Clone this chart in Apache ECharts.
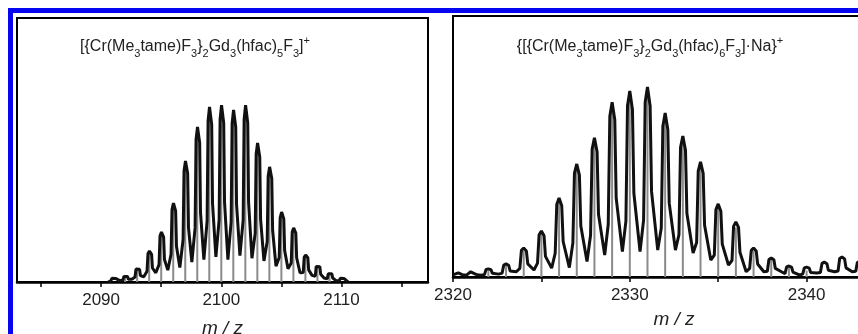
<!DOCTYPE html>
<html>
<head>
<meta charset="utf-8">
<script src="https://cdn.jsdelivr.net/npm/echarts@6/dist/echarts.min.js"></script>
<style>
  html, body { margin: 0; padding: 0; background: #fff; }
  #chart { width: 858px; height: 334px; }
</style>
</head>
<body>
<div id="chart"></div>
<script>
// 左图：实测谱线 [m/z, 强度]
var leftTrace = [
  [2090.6, 0],
  [2090.82, 0.5], [2090.9, 1.4], [2091.02, 1.5], [2091.2, 1.35], [2091.27, 0.7], [2091.55, 0.5],
  [2091.82, 0.8], [2091.9, 2.1], [2092.02, 2.3], [2092.2, 2.1], [2092.27, 1.0], [2092.55, 1.0],
  [2092.82, 1.9], [2092.9, 4.9], [2093.02, 5.3], [2093.2, 4.8], [2093.27, 2.4], [2093.55, 2.0],
  [2093.82, 4.1], [2093.9, 10.8], [2094.02, 11.7], [2094.2, 10.5], [2094.27, 5.3], [2094.55, 3.5],
  [2094.82, 6.6], [2094.9, 17.4], [2095.02, 18.9], [2095.2, 17], [2095.27, 8.5], [2095.55, 4.5],
  [2095.82, 10.5], [2095.9, 27.5], [2096.02, 29.9], [2096.2, 26.9], [2096.27, 13.5], [2096.55, 5.5],
  [2096.82, 16], [2096.9, 42.1], [2097.02, 45.8], [2097.2, 41.2], [2097.27, 20.6], [2097.55, 7.5],
  [2097.82, 20.5], [2097.9, 54], [2098.02, 58.7], [2098.2, 52.8], [2098.27, 26.4], [2098.55, 8.5],
  [2098.82, 23.2], [2098.9, 61], [2099.02, 66.3], [2099.2, 59.7], [2099.27, 29.8], [2099.55, 9.5],
  [2099.82, 23.5], [2099.9, 61.6], [2100.02, 67], [2100.2, 60.3], [2100.27, 30.2], [2100.55, 8.5],
  [2100.82, 22.8], [2100.9, 60], [2101.02, 65.2], [2101.2, 58.7], [2101.27, 29.3], [2101.55, 10],
  [2101.82, 23.5], [2101.9, 61.6], [2102.02, 67], [2102.2, 60.3], [2102.27, 30.2], [2102.55, 9],
  [2102.82, 18.4], [2102.9, 48.5], [2103.02, 52.7], [2103.2, 47.4], [2103.27, 23.7], [2103.55, 8],
  [2103.82, 15.3], [2103.9, 40.1], [2104.02, 43.6], [2104.2, 39.2], [2104.27, 19.6], [2104.55, 6],
  [2104.82, 9.3], [2104.9, 24.4], [2105.02, 26.5], [2105.2, 23.9], [2105.27, 11.9], [2105.55, 5],
  [2105.82, 7.2], [2105.9, 18.9], [2106.02, 20.5], [2106.2, 18.5], [2106.27, 9.2], [2106.55, 3.5],
  [2106.82, 3.6], [2106.9, 9.4], [2107.02, 10.2], [2107.2, 9.2], [2107.27, 4.6], [2107.55, 2.5],
  [2107.82, 2.2], [2107.9, 5.9], [2108.02, 6.4], [2108.2, 5.8], [2108.27, 2.9], [2108.55, 1.5],
  [2108.82, 1.2], [2108.9, 3.1], [2109.02, 3.4], [2109.2, 3.1], [2109.27, 1.5], [2109.55, 0.5],
  [2109.82, 0.5], [2109.9, 1.4], [2110.02, 1.5], [2110.2, 1.35], [2110.27, 0.7], [2110.55, 0]
];
// 左图：理论同位素峰
var leftStickMz = [2092, 2093, 2094, 2095, 2096, 2097, 2098, 2099, 2100, 2101, 2102, 2103, 2104, 2105, 2106, 2107, 2108, 2109];
var leftStickInt = [2, 5, 11, 18, 28, 44, 56, 63, 64, 62, 64, 50, 41, 25, 19, 9.5, 6, 3];

// 右图：实测谱线
var rightTrace = [
  [2320, 0.8], [2320.3, 1.6], [2320.55, 0.8], [2320.8, 0.9], [2321.0, 2.0], [2321.3, 1.0], [2321.55, 0.7],
  [2321.78, 0.9], [2321.87, 2.9], [2322.0, 3.1], [2322.15, 2.8], [2322.23, 1.4], [2322.58, 1.1],
  [2322.78, 1.5], [2322.87, 4.6], [2323.0, 5.0], [2323.15, 4.5], [2323.23, 2.3], [2323.58, 2.0],
  [2323.78, 3.3], [2323.87, 10.2], [2324.0, 11.1], [2324.15, 10], [2324.23, 5], [2324.58, 2.7],
  [2324.78, 5.3], [2324.87, 16.2], [2325.0, 17.6], [2325.15, 15.8], [2325.23, 7.9], [2325.58, 3.4],
  [2325.78, 9.1], [2325.87, 27.9], [2326.0, 30.3], [2326.15, 27.3], [2326.23, 13.6], [2326.58, 3.6],
  [2326.78, 13], [2326.87, 39.8], [2327.0, 43.3], [2327.15, 39], [2327.23, 19.5], [2327.58, 5.9],
  [2327.78, 16], [2327.87, 49], [2328.0, 53.3], [2328.15, 48], [2328.23, 24], [2328.58, 8.4],
  [2328.78, 20.1], [2328.87, 61.6], [2329.0, 67], [2329.15, 60.3], [2329.23, 30.2], [2329.58, 9.7],
  [2329.78, 21.4], [2329.87, 65.6], [2330.0, 71.3], [2330.15, 64.2], [2330.23, 32.1], [2330.58, 9.7],
  [2330.78, 21.8], [2330.87, 67], [2331.0, 72.8], [2331.15, 65.5], [2331.23, 32.8], [2331.58, 10.3],
  [2331.78, 18.8], [2331.87, 57.8], [2332.0, 62.8], [2332.15, 56.5], [2332.23, 28.3], [2332.58, 10.3],
  [2332.78, 16.2], [2332.87, 49.7], [2333.0, 54], [2333.15, 48.6], [2333.23, 24.3], [2333.58, 9.2],
  [2333.78, 13.2], [2333.87, 40.6], [2334.0, 44.1], [2334.15, 39.7], [2334.23, 19.8], [2334.58, 6.5],
  [2334.78, 8.4], [2334.87, 25.8], [2335.0, 28], [2335.15, 25.2], [2335.23, 12.6], [2335.58, 4.6],
  [2335.78, 6.3], [2335.87, 19.4], [2336.0, 21.1], [2336.15, 19], [2336.23, 9.5], [2336.58, 2.0],
  [2336.78, 3.3], [2336.87, 10.2], [2337.0, 11.1], [2337.15, 10], [2337.23, 5], [2337.58, 2.0],
  [2337.78, 2.2], [2337.87, 6.7], [2338.0, 7.3], [2338.15, 6.6], [2338.23, 3.3], [2338.58, 2.0],
  [2338.78, 1.3], [2338.87, 3.9], [2339.0, 4.2], [2339.15, 3.8], [2339.23, 1.9], [2339.58, 0.8],
  [2339.78, 1.1], [2339.87, 3.5], [2340.0, 3.8], [2340.15, 3.4], [2340.23, 1.7], [2340.58, 1.5],
  [2340.78, 1.7], [2340.87, 5.2], [2341.0, 5.7], [2341.15, 5.1], [2341.23, 2.6], [2341.58, 2.0],
  [2341.78, 2.3], [2341.87, 7.1], [2342.0, 7.7], [2342.15, 6.9], [2342.23, 3.5], [2342.58, 2.0],
  [2342.78, 2.2], [2342.87, 5.5], [2343.0, 6], [2343.15, 5.4]
];
var rightStickMz = [2322, 2323, 2324, 2325, 2326, 2327, 2328, 2329, 2330, 2331, 2332, 2333, 2334, 2335, 2336, 2337, 2338, 2339, 2340];
var rightStickInt = [2.5, 4.5, 10, 16.5, 29, 41, 51, 64, 67, 72, 60, 51, 42, 26, 19, 10, 6.5, 3.5, 2.5];

// 刻度
var leftTicks = [2085, 2090, 2095, 2100, 2105, 2110, 2115];
var leftLabels = [2090, 2100, 2110];
var rightTicks = [2320, 2325, 2330, 2335, 2340, 2345];
var rightLabels = [2320, 2330, 2340];

var leftTitle = '[{Cr(Me{s|3}tame)F{s|3}}{s|2}Gd{s|3}(hfac){s|5}F{s|3}]{p|+}';
var rightTitle = '{[{Cr(Me{s|3}tame)F{s|3}}{s|2}Gd{s|3}(hfac){s|6}F{s|3}]\u00b7Na}{p|+}';

var FONT = '"Liberation Sans", Arial, sans-serif';

function pairs(xs, ys) {
  var out = [];
  for (var i = 0; i < xs.length; i++) out.push([xs[i], ys[i]]);
  return out;
}

function makeXAxis(idx, min, max, ticks, labels, nameGap) {
  return {
    type: 'value',
    gridIndex: idx,
    min: min,
    max: max,
    name: 'm / z',
    nameLocation: 'middle',
    nameGap: nameGap,
    nameTextStyle: { fontFamily: FONT, fontStyle: 'italic', fontSize: 19, color: '#222' },
    splitLine: { show: false },
    axisLine: { show: true, onZero: false, lineStyle: { color: '#000', width: 2.5 } },
    axisTick: { show: true, inside: false, length: 5, customValues: ticks, lineStyle: { color: '#000', width: 1.5 } },
    axisLabel: {
      customValues: labels, margin: 10, fontFamily: FONT, fontSize: 17, color: '#222',
      formatter: function (v) { return String(v); }
    }
  };
}

function makeYAxis(idx) {
  return {
    type: 'value', gridIndex: idx, min: 0, max: 100,
    show: false, splitLine: { show: false }
  };
}

var titleRich = {
  s: { fontSize: 11, lineHeight: 10, verticalAlign: 'bottom', fontFamily: FONT, fill: '#222' },
  p: { fontSize: 11, lineHeight: 10, verticalAlign: 'top', fontFamily: FONT, fill: '#222' }
};

var chart = echarts.init(document.getElementById('chart'));

var option = {
  backgroundColor: '#fff',
  animation: false,
  grid: [
    { left: 17, top: 18, width: 411, height: 264, show: true, borderColor: '#000', borderWidth: 2, outerBoundsMode: 'none', containLabel: false },
    { left: 453, top: 16, width: 442, height: 261, show: true, borderColor: '#000', borderWidth: 2, outerBoundsMode: 'none', containLabel: false }
  ],
  xAxis: [
    makeXAxis(0, 2083, 2117.2, leftTicks, leftLabels, 37),
    makeXAxis(1, 2320, 2345, rightTicks, rightLabels, 33)
  ],
  yAxis: [makeYAxis(0), makeYAxis(1)],
  series: [
    {
      type: 'bar', xAxisIndex: 0, yAxisIndex: 0, barWidth: 2,
      itemStyle: { color: '#8a8a8a' }, z: 1,
      data: pairs(leftStickMz, leftStickInt)
    },
    {
      type: 'line', xAxisIndex: 0, yAxisIndex: 0, showSymbol: false, z: 3,
      lineStyle: { color: '#111', width: 3 },
      data: leftTrace
    },
    {
      type: 'bar', xAxisIndex: 1, yAxisIndex: 1, barWidth: 2,
      itemStyle: { color: '#8a8a8a' }, z: 1,
      data: pairs(rightStickMz, rightStickInt)
    },
    {
      type: 'line', xAxisIndex: 1, yAxisIndex: 1, showSymbol: false, z: 3,
      lineStyle: { color: '#111', width: 3 },
      data: rightTrace
    }
  ],
  graphic: [
    {
      // 蓝色外框
      type: 'rect', z: 100,
      shape: { x: 10.5, y: 10.5, width: 1000, height: 1000 },
      style: { fill: null, stroke: '#0505f0', lineWidth: 5 }
    },
    {
      type: 'text', x: 195, y: 47, z: 100,
      style: {
        text: leftTitle, rich: titleRich, align: 'center', verticalAlign: 'middle',
        fontSize: 16, lineHeight: 24, fontFamily: FONT, fill: '#222'
      }
    },
    {
      type: 'text', x: 650, y: 47, z: 100,
      style: {
        text: rightTitle, rich: titleRich, align: 'center', verticalAlign: 'middle',
        fontSize: 16, lineHeight: 24, fontFamily: FONT, fill: '#222'
      }
    }
  ]
};

chart.setOption(option);
</script>
</body>
</html>
